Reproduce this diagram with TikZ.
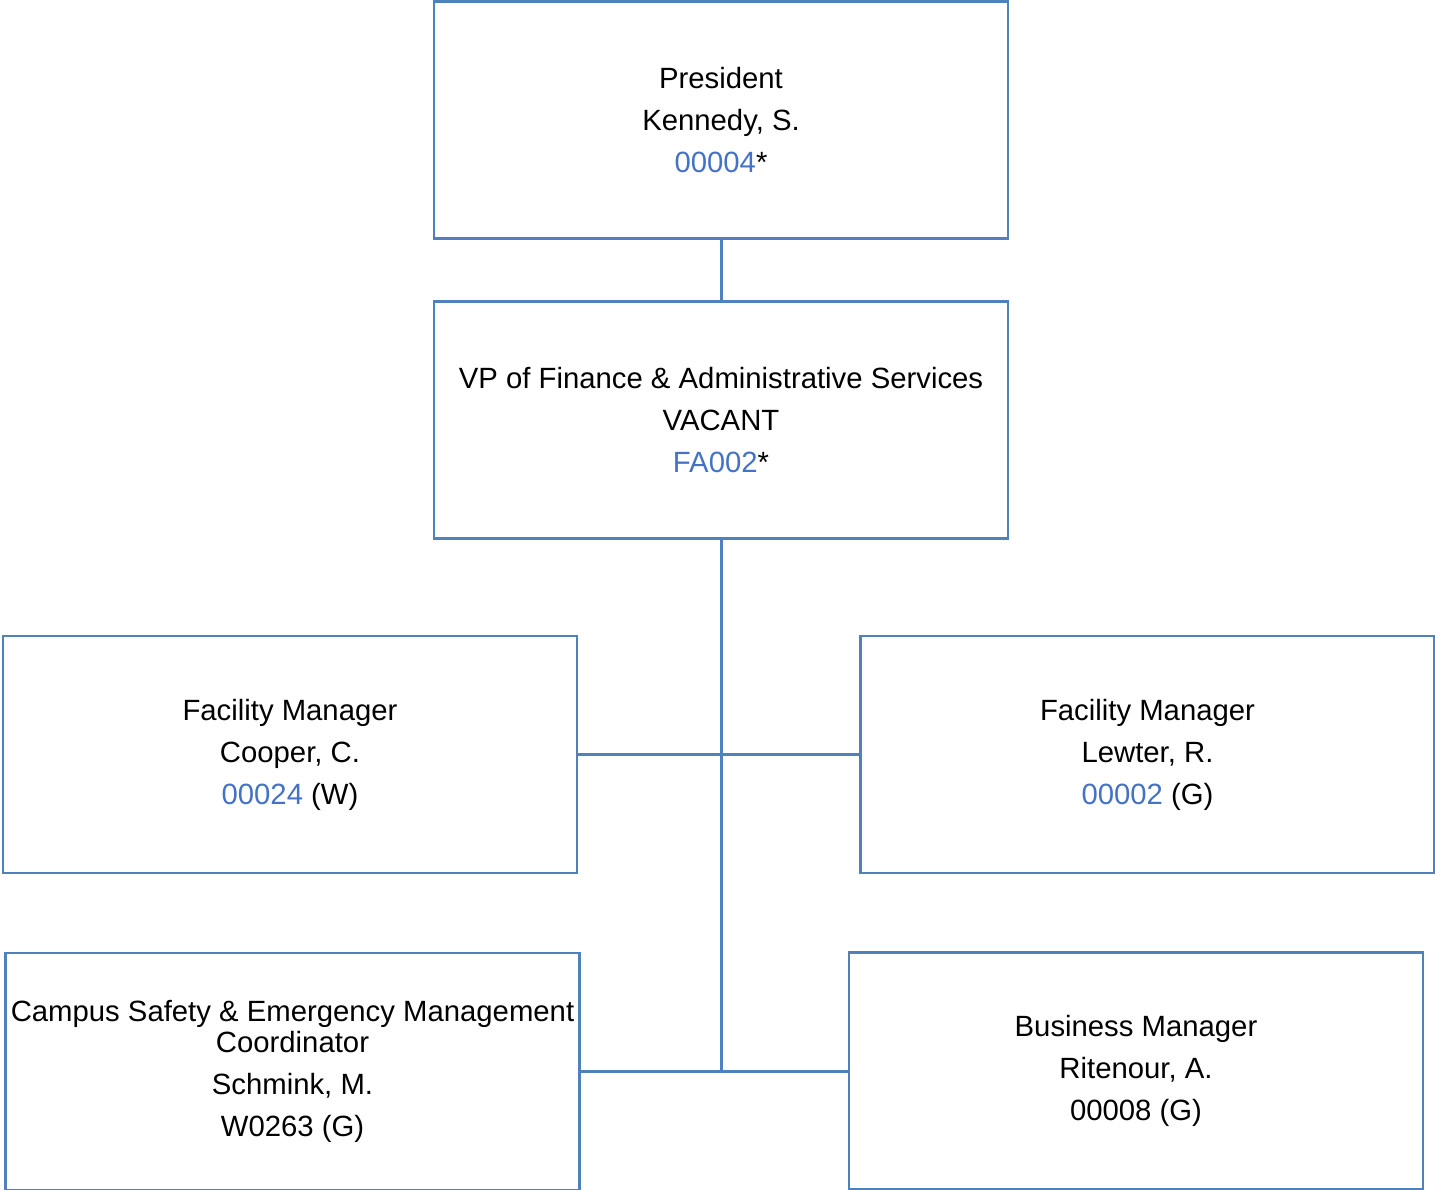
\documentclass[tikz,border=0pt]{standalone}
\usepackage{fontspec}
\setmainfont{Liberation Sans}
\definecolor{boxblue}{RGB}{79,129,189}
\definecolor{linkblue}{RGB}{68,114,196}
\newcommand{\lnk}[1]{\textcolor{linkblue}{#1}}
\begin{document}
\begin{tikzpicture}[x=1pt,y=-1pt,
  posbox/.style={draw=boxblue,line width=2.5pt,rectangle,inner sep=0pt,
    minimum width=574pt,minimum height=237pt,align=center,
    font=\fontsize{29.3}{42}\selectfont},
  conn/.style={draw=boxblue,line width=3pt}]
\useasboundingbox (0,0) rectangle (1435,1190);
\node[posbox] (pres) at (721,120) {President\\Kennedy, S.\\\lnk{00004}*};
\node[posbox] (vp) at (721,420) {VP of Finance \& Administrative Services\\VACANT\\\lnk{FA002}*};
\node[posbox] (coop) at (290,754.5) {Facility Manager\\Cooper, C.\\\lnk{00024} (W)};
\node[posbox] (lew) at (1147.5,754.5) {Facility Manager\\Lewter, R.\\\lnk{00002} (G)};
\node[posbox] (cs) at (292.5,1071.5) {Campus Safety \& Emergency Management\\[-11pt]Coordinator\\Schmink, M.\\W0263 (G)};
\node[posbox] (bus) at (1136,1071) {Business Manager\\Ritenour, A.\\00008 (G)};
\coordinate (j) at (721,1071.5);
\draw[conn] (pres.south) -- (vp.north);
\draw[conn] (vp.south) -- (j);
\draw[conn] (coop.east) -- (lew.west);
\draw[conn] (cs.east) -- (j);
\draw[conn] (j |- bus.west) -- (bus.west);
\end{tikzpicture}
\end{document}
